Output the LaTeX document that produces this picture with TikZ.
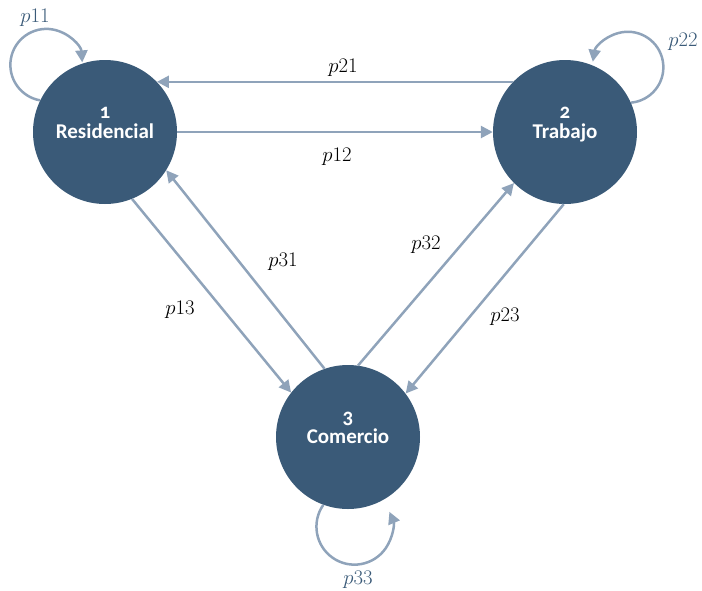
\documentclass[tikz,border=0pt]{standalone}
\usepackage{fontspec}
\setsansfont{Carlito}[Numbers=OldStyle]
\usepackage{tikz}
\usetikzlibrary{arrows.meta}
\definecolor{zonafill}{RGB}{58,90,120}
\definecolor{flecha}{RGB}{143,163,186}

\begin{document}
\begin{tikzpicture}[x=1pt,y=1pt,
  zona/.style={circle,fill=zonafill,minimum size=144pt,inner sep=0pt,
    text=white,align=center,text depth=18pt,
    font=\sffamily\bfseries\fontsize{21}{20}\selectfont},
  flujo/.style={-{Triangle[length=12pt,width=12pt]},draw=flecha,line width=2.5pt},
  prob/.style={font=\fontsize{22}{24}\selectfont}]

  \useasboundingbox (0,0) rectangle (702,-590);

  \node[zona] (n1) at (105,-132) {1\\Residencial};
  \node[zona] (n2) at (565,-132) {2\\Trabajo};
  \node[zona] (n3) at (348,-437) {3\\Comercio};

  % flujos entre zonas
  \path (n1) edge[flujo] (n2)
    (n2.136) edge[flujo] (n1.44)
    (n1.-68.2) edge[flujo] (n3.142.2)
    (n3.109.9) edge[flujo] (n1.-32.8)
    (n3.82) edge[flujo] (n2.-135.6)
    (n2.-91.6) edge[flujo] (n3.37.8);

  % permanencia
  \draw[flujo] (n1.154) arc[start angle=-100,end angle=-356,radius=36];
  \draw[flujo] (n2.24) arc[start angle=-85,end angle=171,radius=35.5];
  \draw[flujo] (n3.-110) arc[start angle=145,end angle=383,radius=38];

  \node[prob] (l21) at (343,-68) {$p21$};
  \node[prob] (l12) at (337,-157) {$p12$};
  \node[prob] (l13) at (180,-310) {$p13$};
  \node[prob] (l31) at (283,-262) {$p31$};
  \node[prob] (l32) at (426,-245) {$p32$};
  \node[prob] (l23) at (505,-317) {$p23$};
  \node[prob,text=zonafill] (l11) at (35,-18) {$p11$};
  \node[prob,text=zonafill] (l22) at (683,-42) {$p22$};
  \node[prob,text=zonafill] (l33) at (358,-580) {$p33$};

\end{tikzpicture}
\end{document}
